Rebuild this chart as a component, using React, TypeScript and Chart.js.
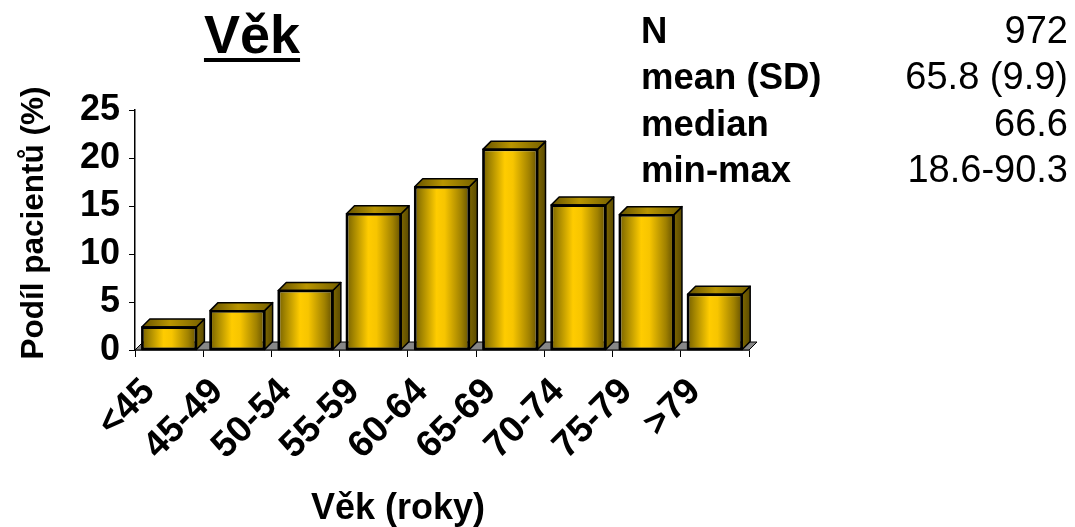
import React, { useEffect, useRef } from "react";
import { Chart, registerables } from "chart.js";

Chart.register(...registerables);

const categories = ["<45", "45-49", "50-54", "55-59", "60-64", "65-69", "70-74", "75-79", ">79"];
const shares = [2.4, 4.1, 6.2, 14.2, 17.0, 20.9, 15.1, 14.1, 5.8];
const yMax = 25;
const yStep = 5;
const chartTitle = "Věk";
const xTitle = "Věk (roky)";
const yTitle = "Podíl pacientů (%)";
const statLabels = ["N", "mean (SD)", "median", "min-max"];
const statValues = ["972", "65.8 (9.9)", "66.6", "18.6-90.3"];

const FONT = "'Liberation Sans', Arial, Helvetica, sans-serif";
const DEPTH = 8;

function frontGradient(ctx: CanvasRenderingContext2D, l: number, r: number) {
  const g = ctx.createLinearGradient(l, 0, r, 0);
  g.addColorStop(0, "#766000");
  g.addColorStop(0.12, "#a08300");
  g.addColorStop(0.4, "#ffcc00");
  g.addColorStop(0.55, "#f7c500");
  g.addColorStop(0.85, "#a08100");
  g.addColorStop(1, "#665200");
  return g;
}

const floorPlugin = {
  id: "floor3d",
  beforeDatasetsDraw(chart: any) {
    const { ctx, chartArea } = chart;
    const { left, right, bottom } = chartArea;
    ctx.save();
    ctx.beginPath();
    ctx.moveTo(left, bottom);
    ctx.lineTo(right, bottom);
    ctx.lineTo(right + DEPTH, bottom - DEPTH);
    ctx.lineTo(left + DEPTH, bottom - DEPTH);
    ctx.closePath();
    ctx.fillStyle = "#878787";
    ctx.fill();
    ctx.lineWidth = 1;
    ctx.strokeStyle = "#000";
    ctx.stroke();
    ctx.restore();
  },
};

const barFacesPlugin = {
  id: "bar3d",
  afterDatasetsDraw(chart: any) {
    const ctx: CanvasRenderingContext2D = chart.ctx;
    const meta = chart.getDatasetMeta(0);
    ctx.save();
    ctx.lineWidth = 1.5;
    ctx.lineJoin = "round";
    ctx.strokeStyle = "#000";
    meta.data.forEach((bar: any) => {
      const { x, y, base, width } = bar.getProps(["x", "y", "base", "width"], true);
      const l = x - width / 2;
      const r = x + width / 2;
      // side face
      ctx.beginPath();
      ctx.moveTo(r, y);
      ctx.lineTo(r + DEPTH, y - DEPTH);
      ctx.lineTo(r + DEPTH, base - DEPTH);
      ctx.lineTo(r, base);
      ctx.closePath();
      const sg = ctx.createLinearGradient(r, 0, r + DEPTH, 0);
      sg.addColorStop(0, "#7d6600");
      sg.addColorStop(1, "#5a4a00");
      ctx.fillStyle = sg;
      ctx.fill();
      ctx.stroke();
      // top face
      ctx.beginPath();
      ctx.moveTo(l, y);
      ctx.lineTo(l + DEPTH, y - DEPTH);
      ctx.lineTo(r + DEPTH, y - DEPTH);
      ctx.lineTo(r, y);
      ctx.closePath();
      const tg = ctx.createLinearGradient(l, 0, r + DEPTH, 0);
      tg.addColorStop(0, "#655200");
      tg.addColorStop(0.45, "#b99500");
      tg.addColorStop(1, "#745f00");
      ctx.fillStyle = tg;
      ctx.fill();
      ctx.stroke();
      ctx.strokeRect(l, y, width, base - y);
    });
    ctx.restore();
  },
};

const textPlugin = {
  id: "texts",
  afterDraw(chart: any) {
    const ctx: CanvasRenderingContext2D = chart.ctx;
    ctx.save();
    ctx.fillStyle = "#000";
    // title, underlined
    ctx.font = `bold 54px ${FONT}`;
    ctx.textAlign = "center";
    ctx.textBaseline = "alphabetic";
    const tx = 252;
    ctx.fillText(chartTitle, tx, 53);
    const tw = ctx.measureText(chartTitle).width;
    ctx.fillRect(tx - tw / 2, 58, tw, 4);
    // x axis title
    ctx.font = `bold 36px ${FONT}`;
    ctx.fillText(xTitle, 398, 519);
    // y axis title
    ctx.save();
    ctx.translate(43, 223);
    ctx.rotate(-Math.PI / 2);
    ctx.font = `bold 31.5px ${FONT}`;
    ctx.fillText(yTitle, 0, 0);
    ctx.restore();
    // stats table
    const baselines = [43, 89, 136, 182];
    statLabels.forEach((lab, i) => {
      ctx.font = `bold 36.5px ${FONT}`;
      ctx.textAlign = "left";
      ctx.fillText(lab, 641, baselines[i]);
      ctx.font = `38px ${FONT}`;
      ctx.textAlign = "right";
      ctx.fillText(statValues[i], 1068, baselines[i]);
    });
    ctx.restore();
  },
};

export default function App() {
  const canvasRef = useRef<HTMLCanvasElement | null>(null);

  useEffect(() => {
    const canvas = canvasRef.current;
    if (!canvas) return;
    const chart = new Chart(canvas, {
      type: "bar",
      data: {
        labels: categories,
        datasets: [
          {
            data: shares,
            backgroundColor: (c: any) => {
              const ch = c.chart;
              const xs = ch.scales && ch.scales.x;
              if (!xs || !ch.chartArea) return "#ffcc00";
              const slot = xs.width / categories.length;
              const w = slot * 0.8;
              const cx = xs.getPixelForValue(c.dataIndex);
              return frontGradient(ch.ctx, cx - w / 2, cx + w / 2);
            },
            borderColor: "#000",
            borderWidth: 2,
            borderSkipped: false,
            barPercentage: 0.8,
            categoryPercentage: 1,
          } as any,
        ],
      },
      options: {
        responsive: false,
        animation: false,
        events: [],
        layout: { padding: { top: 110, right: 326, left: 0, bottom: 0 } },
        plugins: {
          legend: { display: false },
          tooltip: { enabled: false },
          title: { display: false },
        },
        scales: {
          x: {
            type: "category",
            offset: true,
            grid: {
              display: true,
              drawOnChartArea: false,
              drawTicks: true,
              tickLength: 7,
              color: "#000",
              lineWidth: 1,
              offset: true,
            },
            border: { display: true, color: "#000", width: 1.5 },
            ticks: {
              autoSkip: false,
              minRotation: 45,
              maxRotation: 45,
              padding: 13,
              labelOffset: -20,
              color: "#000",
              font: { family: FONT, size: 37, weight: "bold" },
            },
            afterFit: (s: any) => {
              s.height = 177;
            },
          },
          y: {
            min: 0,
            max: yMax,
            grid: {
              display: true,
              drawOnChartArea: false,
              drawTicks: true,
              tickLength: 6,
              color: "#000",
              lineWidth: 1,
            },
            border: { display: true, color: "#000", width: 1.5 },
            ticks: {
              stepSize: yStep,
              padding: 9,
              color: "#000",
              font: { family: FONT, size: 36, weight: "bold" },
            },
            afterFit: (s: any) => {
              s.width = 135;
            },
          },
        },
      } as any,
      plugins: [floorPlugin, barFacesPlugin, textPlugin],
    });
    return () => chart.destroy();
  }, []);

  return (
    <div
      style={{
        position: "fixed",
        left: 0,
        top: 0,
        width: 1075,
        height: 527,
        background: "#fff",
      }}
    >
      <canvas ref={canvasRef} width={1075} height={527} style={{ width: 1075, height: 527 }} />
    </div>
  );
}
